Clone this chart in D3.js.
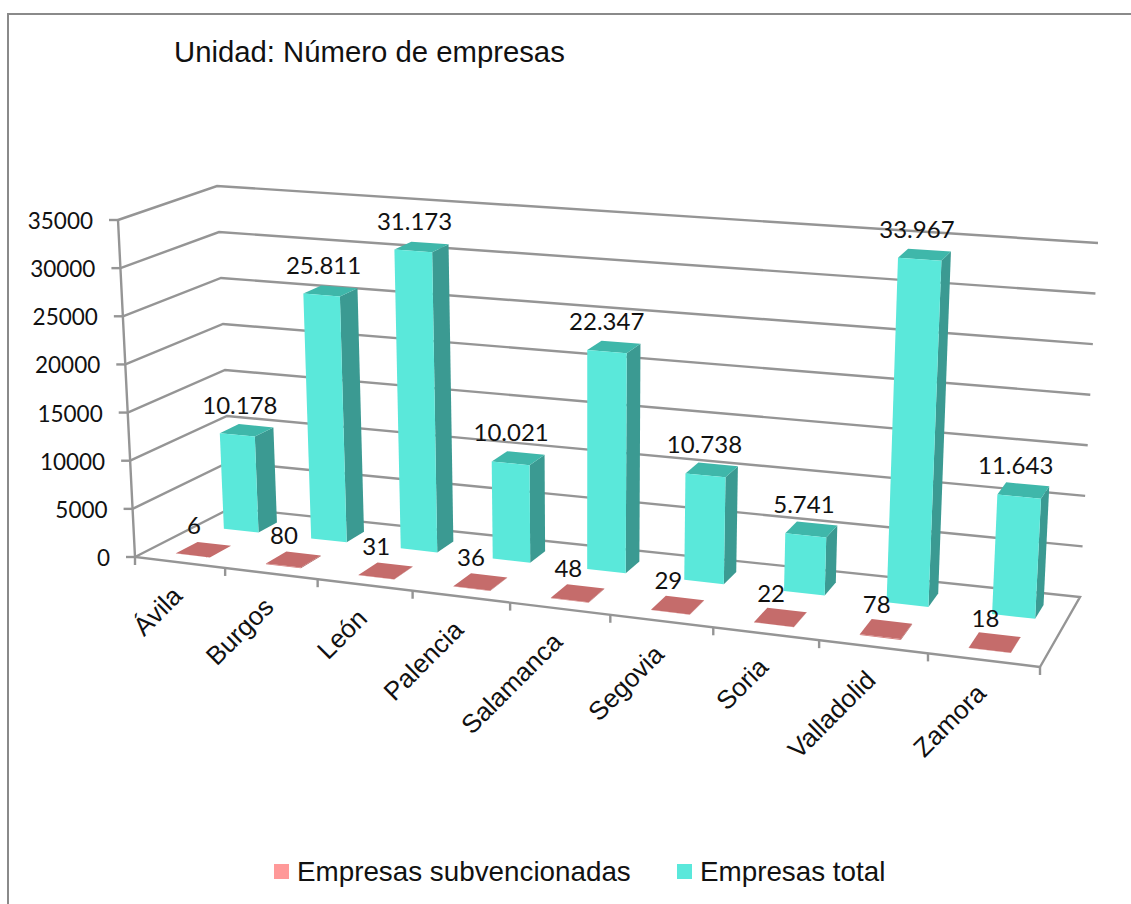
<!DOCTYPE html>
<html lang="es">
<head>
<meta charset="utf-8">
<title>Empresas</title>
<script src="https://cdn.jsdelivr.net/npm/d3@7"></script>
<style>
    html, body { margin: 0; padding: 0; background: #fff; }
    svg { display: block; }
    .calibri { font-family: Lato, "Noto Sans", sans-serif; font-size: 24px; fill: #111; }
    .axis-label { font-size: 22.5px; }
    .arial { font-family: "Liberation Sans", Arial, sans-serif; fill: #111; }
</style>
</head>
<body>
<svg id="chart" width="1131" height="904"></svg>
<script>
const categories = ["Ávila", "Burgos", "León", "Palencia", "Salamanca", "Segovia", "Soria", "Valladolid", "Zamora"];
const subvencionadas = [6, 80, 31, 36, 48, 29, 22, 78, 18];
const total = [10178, 25811, 31173, 10021, 22347, 10738, 5741, 33967, 11643];
const yTicks = [0, 5000, 10000, 15000, 20000, 25000, 30000, 35000];
const legendLabels = ["Empresas subvencionadas", "Empresas total"];

const svg = d3.select("#chart");
const fmt = d3.formatLocale({ decimal: ",", thousands: ".", grouping: [3], currency: ["", ""] }).format(",d");

// the box of the 3D chart on screen, floor and roof, front and back
const floorFL = [135, 557], floorFR = [1040, 667], floorBL = [231, 508], floorBR = [1080, 597];
const roofFL = [118, 220], roofFR = [1060, 290], roofBL = [217, 186], roofBR = [1098, 243];

const xBand = d3.scaleBand().domain(categories).range([0, 1]).paddingInner(0).paddingOuter(0);
const yScale = d3.scaleLinear().domain([0, 35000]).range([0, 1]);
const perspective = 1.13;

function lerp(a, b, t) { return [a[0] + (b[0] - a[0]) * t, a[1] + (b[1] - a[1]) * t]; }

// u along categories, v up the value axis, w from front to back
function project(u, v, w) {
    const p = u / (u + perspective * (1 - u));
    const floor = lerp(lerp(floorFL, floorFR, p), lerp(floorBL, floorBR, p), w);
    const roof = lerp(lerp(roofFL, roofFR, p), lerp(roofBL, roofBR, p), w);
    return lerp(floor, roof, v);
}

const poly = d3.line().curve(d3.curveLinearClosed);
const grid = "#959595";

// frame, only left and top show
svg.append("path").attr("d", d3.line()([[8, 904], [8, 14], [1131, 14]]))
    .attr("fill", "none").attr("stroke", "#8a8a8a").attr("stroke-width", 2);

svg.append("text").attr("class", "arial").attr("x", 174).attr("y", 62)
    .style("font-size", "29.3px").text("Unidad: Número de empresas");

// gridlines on left and back wall
yTicks.forEach(t => {
    const v = yScale(t);
    const pts = [project(0, v, 0), project(0, v, 1), project(1, v, 1)];
    if (t === 0) pts.push(project(1, 0, 0));
    svg.append("path").attr("d", d3.line()(pts)).attr("fill", "none")
        .attr("stroke", grid).attr("stroke-width", 2.4);
    // tick mark
    const a = project(0, v, 0);
    svg.append("line").attr("x1", a[0] - 9).attr("y1", a[1]).attr("x2", a[0]).attr("y2", a[1])
        .attr("stroke", grid).attr("stroke-width", 2.4);
    svg.append("text").attr("class", "calibri axis-label").attr("x", a[0] - 25).attr("y", a[1] + 9)
        .attr("text-anchor", "end").text(t);
});

// value axis and front floor edge
svg.append("path").attr("d", d3.line()([project(0, 1, 0), project(0, 0, 0), project(1, 0, 0)]))
    .attr("fill", "none").attr("stroke", grid).attr("stroke-width", 2.4);

// category ticks
d3.range(categories.length + 1).forEach(i => {
    const a = project(i / categories.length, 0, 0);
    svg.append("line").attr("x1", a[0]).attr("y1", a[1]).attr("x2", a[0]).attr("y2", a[1] + 8)
        .attr("stroke", grid).attr("stroke-width", 2.4);
});

// category labels
categories.forEach(c => {
    const a = project(xBand(c) + xBand.bandwidth() / 2, 0, 0);
    svg.append("text").attr("class", "arial")
        .attr("text-anchor", "end")
        .attr("transform", `translate(${a[0] + 4},${a[1] + 35}) rotate(-45)`)
        .style("font-size", "26px").text(c);
});

// one box per value
function box(c, value, w0, w1, widthShare, shift, cols) {
    const mid = xBand(c) + xBand.bandwidth() / 2 + shift;
    const half = widthShare * xBand.bandwidth() / 2;
    const u0 = mid - half, u1 = mid + half;
    const v = yScale(value);
    const g = svg.append("g");
    g.append("path").attr("d", poly([project(u1, 0, w0), project(u1, 0, w1), project(u1, v, w1), project(u1, v, w0)])).attr("fill", cols.side);
    g.append("path").attr("d", poly([project(u0, v, w0), project(u1, v, w0), project(u1, v, w1), project(u0, v, w1)])).attr("fill", cols.top);
    g.append("path").attr("d", poly([project(u0, 0, w0), project(u1, 0, w0), project(u1, v, w0), project(u0, v, w0)])).attr("fill", cols.front);
}

const rose = { front: "#d17a78", side: "#a85a58", top: "#c56c6b" };
const teal = { front: "#5ae8da", side: "#3b9a92", top: "#3fb7aa" };

categories.forEach((c, i) => box(c, subvencionadas[i], 0.14, 0.37, 0.38, 0, rose));
categories.forEach((c, i) => box(c, total[i], 0.64, 0.84, 0.4, 0.0022, teal));

// value labels
categories.forEach((c, i) => {
    const mid = xBand(c) + xBand.bandwidth() / 2;
    const a = project(mid, yScale(subvencionadas[i]), 0.25);
    svg.append("text").attr("class", "calibri").attr("x", a[0] - 9).attr("y", a[1] - 16)
        .attr("text-anchor", "middle").text(fmt(subvencionadas[i]));
    const b = project(mid, yScale(total[i]), 0.75);
    svg.append("text").attr("class", "calibri").attr("x", b[0] - 6).attr("y", b[1] - 16)
        .attr("text-anchor", "middle").text(fmt(total[i]));
});

// legend
const legendX = d3.scaleOrdinal().domain(legendLabels).range([274, 677]);
const legendCol = d3.scaleOrdinal().domain(legendLabels).range(["#ff9999", "#5ae8db"]);
legendLabels.forEach(l => {
    svg.append("rect").attr("x", legendX(l)).attr("y", 864).attr("width", 15).attr("height", 15).attr("fill", legendCol(l));
    svg.append("text").attr("class", "arial").attr("x", legendX(l) + 23).attr("y", 881)
        .style("font-size", "27.8px").text(l);
});
</script>
</body>
</html>
